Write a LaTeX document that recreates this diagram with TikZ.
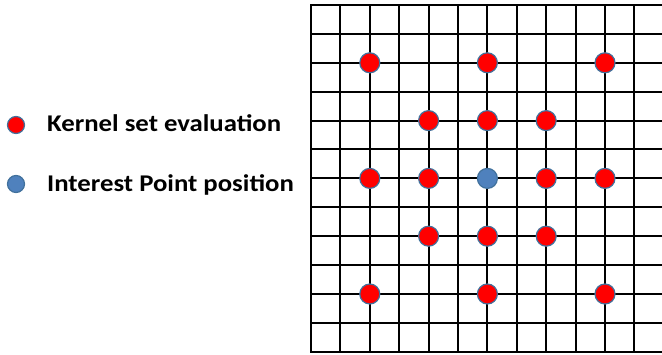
\documentclass[tikz,border=0pt]{standalone}
\usepackage{fontspec}
\setmainfont{Carlito}
\definecolor{dotred}{HTML}{FF0000}
\definecolor{dotedge}{HTML}{41719C}
\definecolor{ipblue}{HTML}{4F81BD}
\newcommand{\legwide}[1]{\scalebox{1.115}[1]{#1}}

\begin{document}
\begin{tikzpicture}[x=1pt, y=-1pt,
  kernel/.style={circle, fill=dotred, draw=dotedge, line width=1.2pt, minimum size=20pt, inner sep=0pt},
  interest/.style={kernel, fill=ipblue},
  legtext/.style={font=\fontsize{24}{28}\selectfont\bfseries, anchor=base west, inner sep=0pt}]
  \useasboundingbox (0,0) rectangle (662,355);
  % Grille
  \foreach \i in {0,...,11}
    \draw[line width=2pt] (311+\i*29.4,5) -- (311+\i*29.4,352);
  \foreach \j in {0,...,12}
    \draw[line width=2pt] (310,5+\j*28.9) -- (662,5+\j*28.9);
  % Noyau
  \foreach \c/\r in {2/2,6/2,10/2,4/4,6/4,8/4,2/6,4/6,8/6,10/6,4/8,6/8,8/8,2/10,6/10,10/10}
    \node[kernel] (k-\c-\r) at (311+\c*29.4, 5+\r*28.9) {};
  % Point d'interet
  \node[interest] (ip) at (311+6*29.4, 5+6*28.9) {};
  % Legende
  \node[kernel, minimum size=17pt] (legk) at (16,125) {};
  \node[legtext] (legktext) at (47,132) {\legwide{Kernel set evaluation}};
  \node[interest, minimum size=17pt] (legi) at (16,184) {};
  \node[legtext] (legitext) at (47,192) {\legwide{Interest Point position}};
\end{tikzpicture}
\end{document}
